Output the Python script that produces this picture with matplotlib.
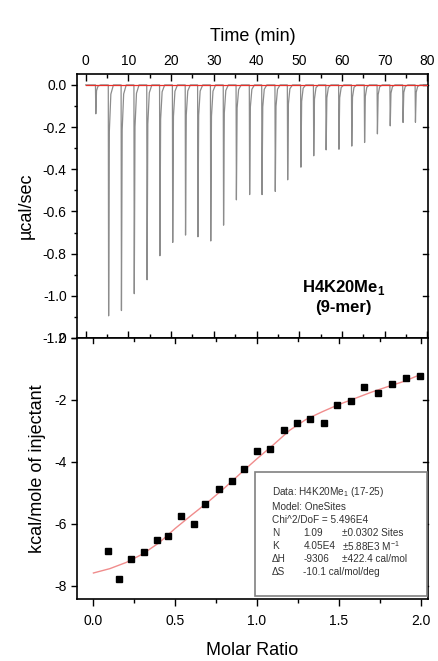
#!/usr/bin/env python3
"""ITC titration of H4K20Me1 (9-mer): raw thermogram and integrated heats"""

import numpy as np
import matplotlib
matplotlib.use('Agg')
import matplotlib.pyplot as plt
from matplotlib.patches import Rectangle
from matplotlib.ticker import MultipleLocator, FormatStrFormatter

plt.rcParams['font.family'] = ['Liberation Sans', 'DejaVu Sans']
plt.rcParams['mathtext.fontset'] = 'custom'
plt.rcParams['mathtext.rm'] = 'Liberation Sans'
plt.rcParams['mathtext.bf'] = 'Liberation Sans:bold'

# raw thermogram: injection times (min) and peak heat rate (ucal/sec)
INJ_TIMES = [2.3, 5.3, 8.3, 11.3, 14.3, 17.3, 20.3, 23.3, 26.2, 29.2, 32.2, 35.2, 38.3,
             41.2, 44.3, 47.2, 50.3, 53.3, 56.2, 59.2, 62.2, 65.2, 68.2, 71.2, 74.2, 77.1]
PEAK_DEPTHS = [-0.137, -1.095, -1.07, -0.99, -0.924, -0.81, -0.747, -0.712, -0.72, -0.74,
               -0.665, -0.545, -0.52, -0.52, -0.505, -0.45, -0.39, -0.336, -0.308, -0.305,
               -0.29, -0.273, -0.232, -0.194, -0.178, -0.177]
# shape of one injection peak: (minutes after injection, fraction of peak depth)
PEAK_SHAPE = [(0.0, 0.0), (0.08, 1.0), (0.25, 0.2), (0.6, 0.04), (1.2, 0.0)]

# integrated heats
MOLAR_RATIO = [0.088, 0.159, 0.232, 0.309, 0.386, 0.453, 0.535, 0.612, 0.685, 0.768,
               0.848, 0.921, 1.002, 1.082, 1.165, 1.246, 1.326, 1.407, 1.492, 1.576,
               1.657, 1.742, 1.823, 1.911, 1.998]
HEATS = [-6.87, -7.79, -7.14, -6.92, -6.52, -6.38, -5.76, -6.01, -5.37, -4.88,
         -4.61, -4.24, -3.65, -3.58, -2.98, -2.75, -2.63, -2.76, -2.18, -2.03,
         -1.58, -1.78, -1.49, -1.29, -1.23]

# one-site fit curve
FIT_X = [0.0, 0.1, 0.2, 0.3, 0.4, 0.5, 0.6, 0.7, 0.8, 0.9, 1.0,
         1.1, 1.2, 1.3, 1.4, 1.5, 1.6, 1.7, 1.8, 1.9, 2.0]
FIT_Y = [-7.59, -7.45, -7.25, -6.98, -6.62, -6.15, -5.72, -5.30, -4.85, -4.37, -3.90,
         -3.45, -2.98, -2.63, -2.38, -2.15, -1.95, -1.75, -1.57, -1.40, -1.18]

FIT_LINES = [
    ('Data: H4K20Me$_1$ (17-25)', '', ''),
    ('Model: OneSites', '', ''),
    ('Chi^2/DoF = 5.496E4', '', ''),
    ('N', '1.09', '\u00b10.0302 Sites'),
    ('K', '4.05E4', '\u00b15.88E3 M$^{-1}$'),
    ('\u0394H', '-9306', '\u00b1422.4 cal/mol'),
    ('\u0394S', '-10.1 cal/mol/deg', ''),
]


def thermogram():
    """build the raw trace from the injection list"""
    t = [0.0]
    p = [0.0]
    for t0, depth in zip(INJ_TIMES, PEAK_DEPTHS):
        for dt, frac in PEAK_SHAPE:
            t.append(t0 + dt)
            p.append(depth * frac)
    t.append(80.0)
    p.append(0.0)
    return np.array(t), np.array(p)


fig = plt.figure(figsize=(4.38, 6.61), dpi=100)
ax_top = fig.add_axes([0.176, 0.4887, 0.801, 0.3994])
ax_bot = fig.add_axes([0.176, 0.0938, 0.801, 0.3949])

for ax in (ax_top, ax_bot):
    for spine in ax.spines.values():
        spine.set_linewidth(1.2)

# --- top panel
t, p = thermogram()
ax_top.plot(t, p, color='#8c8c8c', lw=0.9, zorder=2)
ax_top.plot([0, 80], [0, 0], color='#e8302a', lw=0.9, zorder=3)
ax_top.set_xlim(-2, 80.1)
ax_top.set_ylim(-1.2, 0.052)
ax_top.xaxis.set_major_locator(MultipleLocator(10))
ax_top.xaxis.set_minor_locator(MultipleLocator(5))
ax_top.yaxis.set_major_locator(MultipleLocator(0.2))
ax_top.yaxis.set_minor_locator(MultipleLocator(0.1))
ax_top.xaxis.set_label_position('top')
ax_top.tick_params(axis='x', which='both', direction='in', top=True, bottom=True,
                   labeltop=True, labelbottom=False, labelsize=10, pad=4)
ax_top.tick_params(axis='x', which='major', length=5, width=1)
ax_top.tick_params(axis='x', which='minor', length=3, width=1)
ax_top.tick_params(axis='y', which='major', direction='out', length=4, width=1,
                   labelsize=10, right=False)
ax_top.tick_params(axis='y', which='minor', direction='out', length=2.5, width=1)
ax_top.yaxis.set_major_formatter(FormatStrFormatter('%.1f'))
ax_top.set_xlabel('Time (min)', fontsize=13, labelpad=10)
ax_top.set_ylabel('\u00b5cal/sec', fontsize=13, labelpad=6)
ax_top.text(0.76, 0.193, r'H4K20Me$_{\mathbf{1}}$', transform=ax_top.transAxes,
            ha='center', va='center', fontsize=12, fontweight='bold')
ax_top.text(0.76, 0.114, '(9-mer)', transform=ax_top.transAxes,
            ha='center', va='center', fontsize=12, fontweight='bold')
# inward right ticks
for yv in np.arange(-1.0, 0.01, 0.2):
    ax_top.plot([1.0, 0.985], [yv, yv], color='black', lw=1,
                transform=ax_top.get_yaxis_transform(), clip_on=False)

# --- bottom panel
ax_bot.plot(FIT_X, FIT_Y, color='#f08c8c', lw=1.0, zorder=2)
ax_bot.plot(MOLAR_RATIO, HEATS, 's', color='black', ms=4, zorder=3)
ax_bot.set_xlim(-0.1, 2.045)
ax_bot.set_ylim(-8.43, 0)
ax_bot.xaxis.set_major_locator(MultipleLocator(0.5))
ax_bot.xaxis.set_minor_locator(MultipleLocator(0.25))
ax_bot.yaxis.set_major_locator(MultipleLocator(2))
ax_bot.yaxis.set_major_formatter(FormatStrFormatter('%d'))
ax_bot.tick_params(axis='x', which='both', direction='out', labelsize=10, pad=6)
ax_bot.tick_params(axis='x', which='major', length=5, width=1)
ax_bot.tick_params(axis='x', which='minor', length=3, width=1)
ax_bot.tick_params(axis='y', direction='out', length=4, width=1, labelsize=10)
ax_bot.xaxis.set_major_formatter(FormatStrFormatter('%.1f'))
ax_bot.set_xlabel('Molar Ratio', fontsize=13, labelpad=10)
ax_bot.set_ylabel('kcal/mole of injectant', fontsize=13, labelpad=6)
# inward ticks on the top edge
for xv in np.arange(0.0, 2.01, 0.25):
    ln = 0.02 if abs(xv * 2 - round(xv * 2)) < 1e-6 else 0.012
    ax_bot.plot([xv, xv], [1.0, 1.0 - ln], color='black', lw=1,
                transform=ax_bot.get_xaxis_transform(), clip_on=False)
for yv in (-2, -4, -6, -8):
    ax_bot.plot([1.0, 0.985], [yv, yv], color='black', lw=1,
                transform=ax_bot.get_yaxis_transform(), clip_on=False)

# fit parameter box
ax_bot.add_patch(Rectangle((0.507, 0.011), 0.49, 0.476, transform=ax_bot.transAxes,
                           facecolor='white', edgecolor='#808080', lw=1.2, zorder=4))
line_y = [0.408, 0.354, 0.304, 0.254, 0.204, 0.154, 0.104]
for yy, (c1, c2, c3) in zip(line_y, FIT_LINES):
    kw = dict(transform=ax_bot.transAxes, fontsize=7.2, color='#333333',
              va='center', ha='left', zorder=5)
    ax_bot.text(0.556, yy, c1, **kw)
    if c2:
        ax_bot.text(0.645, yy, c2, **kw)
    if c3:
        ax_bot.text(0.755, yy, c3, **kw)

fig.savefig('out.png', dpi=100)
